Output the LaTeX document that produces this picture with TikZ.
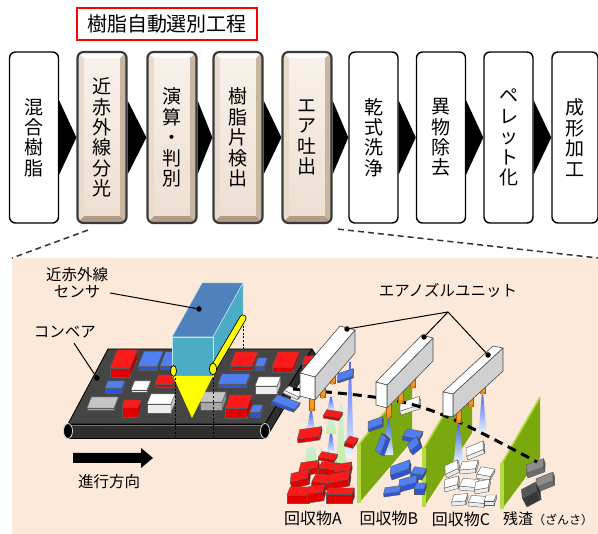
\documentclass[tikz,border=0pt]{standalone}
\usepackage{fontspec}
\newfontfamily\jp{Noto Sans CJK JP}
\usetikzlibrary{backgrounds}

\definecolor{panelbg}{HTML}{FDE9D9}
\definecolor{bevborder}{HTML}{3A3A3A}
\definecolor{bevtop}{HTML}{FFFDFB}
\definecolor{bevleft}{HTML}{EADCCD}
\definecolor{bevright}{HTML}{C8B6A3}
\definecolor{bevbottom}{HTML}{B09C88}
\definecolor{bevinA}{HTML}{F8F1EA}
\definecolor{bevinB}{HTML}{EDDFD2}
\definecolor{belttop}{HTML}{454545}
\definecolor{beltfront}{HTML}{2E2E2E}
\definecolor{redtop}{HTML}{FF1A1A}
\definecolor{redfront}{HTML}{E00000}
\definecolor{bluetop}{HTML}{4F7FF0}
\definecolor{bluefront}{HTML}{2B55D6}
\definecolor{whitetop}{HTML}{FFFFFF}
\definecolor{whitefront}{HTML}{EDEDED}
\definecolor{graytop}{HTML}{C4C4C4}
\definecolor{grayfront}{HTML}{A8A8A8}
\definecolor{dgraytop}{HTML}{8C8C8C}
\definecolor{dgrayfront}{HTML}{6E6E6E}
\definecolor{blacktop}{HTML}{555555}
\definecolor{blackfront}{HTML}{383838}
\definecolor{sensortop}{HTML}{4F81BD}
\definecolor{sensorfront}{HTML}{4BACC6}
\definecolor{conecolor}{HTML}{FFFF00}
\definecolor{nozzlefill}{HTML}{F79A2A}
\definecolor{nozzledraw}{HTML}{B05A00}
\definecolor{barside}{HTML}{D0D0D0}
\definecolor{partgreen}{HTML}{7CA80F}
\definecolor{partedge}{HTML}{B3DB45}
\definecolor{jeta}{HTML}{3D5CFF}
\definecolor{jetb}{HTML}{E6F6FF}
\definecolor{glowa}{HTML}{C8EEE0}
\definecolor{glowb}{HTML}{C4EFA0}

% a resin flake: front-bottom-left corner, width, height, depth, tilt, colour family
\newcommand\resinpiece[7]{%
  \begin{scope}[shift={(#1,#2)},rotate=#6]
    \filldraw[piecedraw,fill=#7front] (0,0) -- (#3,0) -- (#3,-#4) -- (0,-#4) -- cycle;
    \filldraw[piecedraw,fill=#7front!82!black] (#3,0) -- ({#3+0.4*#5},-#5) -- ({#3+0.4*#5},{-#4-#5}) -- (#3,-#4) -- cycle;
    \filldraw[piecedraw,fill=#7top] (0,-#4) -- (#3,-#4) -- ({#3+0.4*#5},{-#4-#5}) -- ({0.4*#5},{-#4-#5}) -- cycle;
  \end{scope}}

% an air jet: centre x, top y, bottom y, top width, bottom width, colour pair
\newcommand\airjet[6]{%
  \shade[top color=#6a,bottom color=#6b,opacity=0.92]
    ({#1-#4/2},#2) -- ({#1+#4/2},#2) -- ({#1+#5/2},#3) -- ({#1-#5/2},#3) -- cycle;}

% an orange nozzle hanging under a bar: centre x, bottom y
\newcommand\airnozzle[2]{%
  \filldraw[nozzlestyle] ({#1-2.3},{#2-14}) rectangle ({#1+2.3},#2);
  \filldraw[nozzlestyle] (#1,#2) ellipse [x radius=2.3, y radius=1.2];}

% a nozzle bar: front-top corners A and B, length vector v
\newcommand\airbar[6]{%
  \filldraw[barline,fill=barside] (#3,#4) -- ({#3+#5},{#4+#6}) -- ({#3+#5},{#4+#6+23}) -- (#3,{#4+23}) -- cycle;
  \filldraw[barline,fill=white] (#1,#2) -- (#3,#4) -- ({#3+#5},{#4+#6}) -- ({#1+#5},{#2+#6}) -- cycle;
  \filldraw[barline,fill=white] (#1,#2) -- (#3,#4) -- (#3,{#4+23}) -- (#1,{#2+23}) -- cycle;}

% a green partition plate
\newcommand\partition[8]{%
  \fill[partgreen] (#1,#2) -- (#3,#4) -- (#5,#6) -- (#7,#8) -- cycle;
  \draw[partedge,line width=1.6pt] (#1,#2) -- (#3,#4);
  \draw[partedge,line width=3.6pt] (#1,#2) -- (#7,#8);}

\begin{document}
\begin{tikzpicture}[x=1pt,y=-1pt,
  stepbox/.style={draw=black,line width=1.4pt,rounded corners=6pt,fill=white,
    minimum width=49pt,minimum height=171pt,inner sep=0pt,align=center,
    font=\jp\fontsize{19}{20.4}\selectfont},
  bevelbox/.style={stepbox,draw=bevborder,line width=2.2pt,fill=bevleft,
    path picture={
      \fill[bevtop,sharp corners] (path picture bounding box.north west) -- (path picture bounding box.north east)
        -- ([xshift=-7pt,yshift=-7pt]path picture bounding box.north east) -- ([xshift=7pt,yshift=-7pt]path picture bounding box.north west) -- cycle;
      \fill[bevright,sharp corners] (path picture bounding box.north east) -- (path picture bounding box.south east)
        -- ([xshift=-7pt,yshift=7pt]path picture bounding box.south east) -- ([xshift=-7pt,yshift=-7pt]path picture bounding box.north east) -- cycle;
      \fill[bevbottom,sharp corners] (path picture bounding box.south east) -- (path picture bounding box.south west)
        -- ([xshift=7pt,yshift=7pt]path picture bounding box.south west) -- ([xshift=-7pt,yshift=7pt]path picture bounding box.south east) -- cycle;
      \shade[top color=bevinA,bottom color=bevinB,sharp corners]
        ([xshift=7pt,yshift=-7pt]path picture bounding box.north west) rectangle ([xshift=-7pt,yshift=7pt]path picture bounding box.south east);
    }},
  chevron/.style={fill=black},
  zoomline/.style={draw=black!80,line width=1.5pt,dash pattern=on 6pt off 4pt},
  piecedraw/.style={draw=black!65,line width=0.4pt,line join=round},
  nozzlestyle/.style={fill=nozzlefill,draw=nozzledraw,line width=0.4pt},
  barline/.style={draw=black!70,line width=0.6pt,line join=round},
  label/.style={font=\jp\fontsize{15.5}{17}\selectfont,inner sep=0pt,align=center},
  leader/.style={draw=black,line width=1pt},
  dot/.style={circle,fill=black,inner sep=0pt,minimum size=5.5pt},
  guide/.style={draw=black,line width=1pt,dash pattern=on 2pt off 1.6pt},
  traj/.style={draw=black,line width=3pt,dash pattern=on 9pt off 6pt}
]
\useasboundingbox (0,0) rectangle (598,534);

% ---------- process flow ----------
\node[draw=red,line width=1.5pt,fill=white,minimum width=180pt,minimum height=32pt,
      inner sep=0pt,font=\jp\fontsize{20}{22}\selectfont] (title) at (167,24) {樹脂自動選別工程};

\node[stepbox]  (b1) at (34,137.5)    {混\\合\\樹\\脂};
\node[bevelbox] (b2) at (102,137.5)   {近\\赤\\外\\線\\分\\光};
\node[bevelbox] (b3) at (172,137.5)   {演\\算\\・\\判\\別};
\node[bevelbox] (b4) at (238,137.5)   {樹\\脂\\片\\検\\出};
\node[bevelbox] (b5) at (307,137.5)   {エ\\ア\\吐\\出};
\node[stepbox]  (b6) at (373.5,137.5) {乾\\式\\洗\\浄};
\node[stepbox]  (b7) at (441,137.5)   {異\\物\\除\\去};
\node[stepbox]  (b8) at (508.5,137.5) {ペ\\レ\\ッ\\ト\\化};
\node[stepbox,minimum width=46pt] (b9) at (575,137.5) {成\\形\\加\\工};

\begin{scope}[on background layer]
  \foreach \a/\b in {b1/b2,b2/b3,b3/b4,b4/b5,b5/b6,b6/b7,b7/b8,b8/b9}
    \fill[chevron] ([yshift=37pt]\a.east) -- (\b.west) -- ([yshift=-37pt]\a.east) -- cycle;
\end{scope}

% ---------- detail panel ----------
\node[fill=panelbg,draw=none,minimum width=586pt,minimum height=276pt,inner sep=0pt,anchor=north west]
  (panel) at (12,258) {};
\draw[zoomline] ([xshift=-14pt,yshift=-6pt]b2.south) -- (panel.north west);
\draw[zoomline] ([xshift=31pt,yshift=-5pt]b5.south) -- (panel.north east);

% conveyor belt
\filldraw[fill=belttop,draw=black,line width=0.8pt,line join=round] (108,349) -- (312,349) -- (265,424) -- (68,424) -- cycle;
\filldraw[fill=beltfront,draw=black,line width=0.8pt,line join=round] (265,424) -- (312,349) -- (316,355) -- (269,433) -- (265,438) -- cycle;
\filldraw[fill=beltfront,draw=black,line width=0.8pt] (68,424) rectangle (265,438);
\draw[black!55,line width=0.6pt] (70,425.2) -- (263,425.2);
\filldraw[fill=black,draw=white!85!black,line width=0.8pt] (68,431) ellipse [x radius=4.5, y radius=7.5];
\filldraw[fill=black,draw=white!85!black,line width=0.8pt] (265,431) ellipse [x radius=4.5, y radius=7.5];

% flakes riding on the belt
\resinpiece{302}{367}{9}{3}{8}{0}{red}
\resinpiece{160}{369}{14}{3}{14}{0}{blue}
\resinpiece{138}{370}{19}{3.5}{15}{0}{blue}
\resinpiece{230}{370}{22}{4}{14}{0}{red}
\resinpiece{255}{370}{9}{4}{8}{0}{blue}
\resinpiece{272}{372}{21}{5}{15}{0}{red}
\resinpiece{110}{377}{20}{9}{18}{0}{red}
\resinpiece{155}{387}{18}{3}{9}{0}{red}
\resinpiece{218}{387}{28}{3}{10}{0}{blue}
\resinpiece{131}{392}{16}{2}{9}{0}{white}
\resinpiece{105}{393}{17}{5}{7}{0}{blue}
\resinpiece{255}{394}{22}{8}{9}{0}{white}
\resinpiece{200}{410}{22}{8}{10}{0}{gray}
\resinpiece{87}{410}{27}{2}{11}{0}{gray}
\resinpiece{147}{413}{24}{9}{10}{0}{white}
\resinpiece{250}{417}{10}{5}{7}{0}{blue}
\resinpiece{122}{417}{16}{10}{7}{0}{red}
\resinpiece{225}{418}{22}{10}{13}{0}{red}

% near-infrared sensor
\draw[guide] (243,322) -- (243,350);
\filldraw[fill=sensortop,draw=white!70!sensorfront,line width=0.5pt,line join=round] (172,337) -- (213,337) -- (243,283) -- (202,283) -- cycle;
\filldraw[fill=sensorfront,draw=white!70!sensorfront,line width=0.5pt,line join=round] (213,337) -- (243,283) -- (243,318) -- (213,370) -- cycle;
\filldraw[fill=sensorfront,draw=white!70!sensorfront,line width=0.5pt] (172,337) rectangle (213,376);
\fill[conecolor] (173,376) -- (213,376) -- (192,418) -- cycle;
\draw[black,line width=7pt,line cap=round] (213,369) -- (243,318);
\draw[conecolor,line width=5.4pt,line cap=round] (213,369) -- (243,318);
\filldraw[fill=conecolor,draw=black,line width=0.7pt] (213,369) ellipse [x radius=3.5, y radius=6];
\filldraw[fill=conecolor,draw=black,line width=0.7pt] (173.5,371) ellipse [x radius=3, y radius=5.5];
\draw[guide] (175,378) -- (175,437);
\draw[guide] (213,378) -- (213,437);

% partitions between the collection bins
\partition{359}{444}{412}{378}{412}{441}{359}{503}
\partition{424}{448}{472}{367}{472}{433}{424}{507}
\partition{502}{463}{540}{397}{540}{458}{502}{509}

% air jets
\airjet{350}{362}{458}{1.5}{8}{jet}
\airjet{341}{403}{470}{2}{11}{glow}
\airjet{311}{410}{432}{1.5}{9}{jet}
\airjet{311}{447}{467}{8}{14}{glow}
\airjet{331}{397}{411}{1.5}{8}{jet}
\airjet{331}{420}{434}{6}{11}{glow}
\airjet{331}{434}{453}{2}{8}{jet}
\airjet{388.5}{417}{455}{1.5}{10}{jet}
\airjet{458.5}{422}{463}{1.5}{10}{jet}
\airjet{482.5}{395}{433}{1.5}{8}{jet}

% flakes leaving the belt and in flight
\resinpiece{271}{404}{24}{3}{8}{-20}{blue}
\resinpiece{283}{393}{16}{3}{6}{-25}{white}
\resinpiece{338}{383}{16}{2}{7}{18}{blue}
\resinpiece{323}{418}{16}{3}{6}{-10}{red}
\resinpiece{298}{443}{22}{4}{9}{8}{red}
\resinpiece{318}{460}{16}{3}{6}{-10}{red}
\resinpiece{344}{446}{9}{4}{7}{-15}{red}
\resinpiece{401}{415}{20}{4}{8}{18}{white}
\resinpiece{369}{432}{15}{3}{7}{20}{blue}
\resinpiece{468}{460}{18}{4}{8}{22}{white}

% bin A: red
\resinpiece{300}{476}{18}{6}{7}{8}{red}
\resinpiece{318}{474}{18}{6}{7}{-6}{red}
\resinpiece{335}{478}{16}{6}{7}{10}{red}
\resinpiece{292}{489}{18}{7}{8}{15}{red}
\resinpiece{311}{488}{18}{7}{8}{-8}{red}
\resinpiece{330}{490}{20}{7}{8}{12}{red}
\resinpiece{287}{503}{22}{8}{8}{0}{red}
\resinpiece{308}{503}{16}{9}{7}{8}{red}
\resinpiece{326}{503}{26}{9}{6}{0}{red}

% bin B: blue
\resinpiece{384}{456}{18}{4}{6}{70}{blue}
\resinpiece{402}{440}{16}{4}{8}{-10}{blue}
\resinpiece{413}{455}{12}{5}{7}{40}{blue}
\resinpiece{392}{480}{20}{5}{8}{20}{blue}
\resinpiece{410}{478}{12}{5}{7}{-10}{blue}
\resinpiece{400}{492}{18}{5}{7}{15}{blue}
\resinpiece{384}{497}{16}{3}{6}{8}{blue}
\resinpiece{414}{494}{10}{5}{6}{0}{blue}

% bin C: white
\resinpiece{447}{478}{14}{4}{8}{25}{white}
\resinpiece{460}{474}{16}{4}{8}{5}{white}
\resinpiece{476}{478}{14}{4}{8}{-10}{white}
\resinpiece{445}{492}{14}{4}{8}{15}{white}
\resinpiece{459}{490}{16}{4}{8}{-5}{white}
\resinpiece{475}{494}{14}{4}{8}{10}{white}
\resinpiece{452}{506}{14}{4}{7}{5}{white}
\resinpiece{468}{506}{16}{4}{7}{-5}{white}
\resinpiece{484}{505}{10}{4}{6}{0}{white}

% residue
\resinpiece{528}{478}{18}{5}{8}{20}{dgray}
\resinpiece{538}{492}{18}{5}{8}{22}{dgray}
\resinpiece{527}{507}{16}{10}{8}{28}{black}

% flight path of the flakes
\draw[traj] (293,389) .. controls (420,400) .. (537,462);

% air nozzle units
\airnozzle{311.5}{410}
\airnozzle{322.5}{397}
\airnozzle{332.5}{383}
\airbar{300}{373}{315}{377}{40}{-47}
\airnozzle{388.5}{417}
\airnozzle{400.5}{402}
\airnozzle{412.5}{387}
\airbar{376}{382}{387}{385}{46}{-47}
\airnozzle{458.5}{422}
\airnozzle{470.5}{406}
\airnozzle{482.5}{393}
\airbar{443}{392}{453}{394}{50}{-46}

% labels and leaders
\node[label] (sens) at (77,283) {近赤外線\\センサ};
\node[dot] (sdot) at (199,309) {};
\draw[leader] ([xshift=2pt,yshift=-10pt]sens.east) -- (sdot);

\node[label] (conv) at (65,332) {コンベア};
\node[dot] (cdot) at (97,378) {};
\draw[leader] ([xshift=9pt,yshift=-5pt]conv.south) -- (cdot);

\node[label] (nzl) at (448,291) {エアノズルユニット};
\coordinate (apex) at (448,312);
\node[dot] (n1) at (347,329) {};
\node[dot] (n2) at (424,337) {};
\node[dot] (n3) at (488,355) {};
\draw[leader] (n1) -- (apex) -- (n3);
\draw[leader] (apex) -- (n2);

\fill[black] (73,453) -- (141,453) -- (141,448) -- (153,458) -- (141,468) -- (141,463) -- (73,463) -- cycle;
\node[label] (dir) at (109,482) {進行方向};

\node[label,font=\jp\fontsize{16}{18}\selectfont] (binA) at (313,518) {回収物A};
\node[label,font=\jp\fontsize{16}{18}\selectfont] (binB) at (389,518) {回収物B};
\node[label,font=\jp\fontsize{16}{18}\selectfont] (binC) at (461,519) {回収物C};
\node[label,font=\jp\fontsize{15}{18}\selectfont] (binR) at (548,519) {残渣{\fontsize{12}{14}\selectfont（ざんさ）}};
\end{tikzpicture}
\end{document}
